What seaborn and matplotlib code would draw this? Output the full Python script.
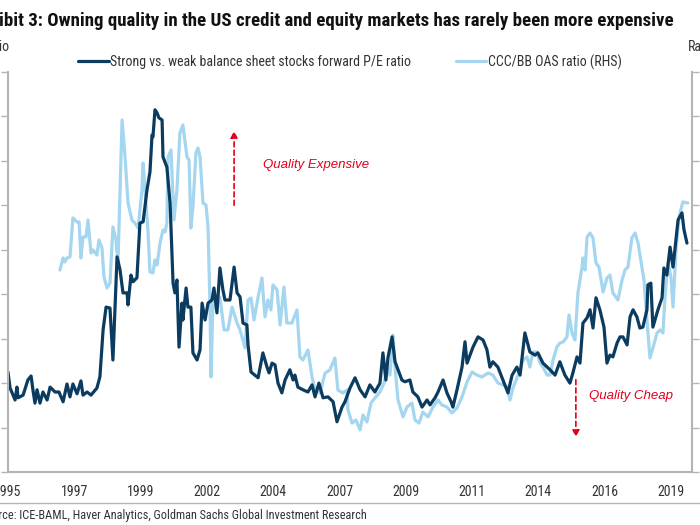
import matplotlib
matplotlib.use("Agg")
import matplotlib.pyplot as plt
from matplotlib import font_manager
from matplotlib.lines import Line2D
import seaborn as sns
import pandas as pd

# ---- data (x = months since Jan 1995) ----
pe_month = [0, 0.9, 3.1, 3.9, 4.4, 6.6, 8.7, 10.1, 10.9, 11.8,
            12.7, 14.0, 15.3, 17.1, 18.4, 20.6, 22.3, 24.1, 25.8, 27.1,
            28.4, 30.2, 31.9, 32.8, 34.6, 36.3, 38.9, 40.2, 41.6, 42.9,
            44.6, 45.9, 47.7, 49.0, 50.3, 52.1, 52.5, 53.8, 54.7, 56.4,
            57.7, 59.1, 60.8, 62.1, 63.0, 63.4, 64.3, 65.2, 66.0, 67.4,
            67.8, 69.5, 70.9, 72.2, 73.0, 73.9, 74.8, 76.1, 76.5, 77.9,
            78.7, 80.0, 80.9, 82.7, 84.0, 84.9, 86.2, 87.5, 89.2, 90.1,
            91.4, 92.7, 94.0, 94.9, 96.2, 97.1, 98.9, 100.2, 101.5, 102.8,
            104.5, 105.0, 106.3, 108.0, 109.4, 111.5, 113.3, 114.2, 115.5, 116.8,
            118.1, 119.8, 121.2, 123.3, 124.7, 125.5, 126.8, 129.0, 131.2, 133.0,
            134.3, 136.0, 137.8, 140.0, 142.2, 143.9, 146.1, 147.4, 149.6, 151.8,
            154.0, 156.2, 158.3, 160.5, 162.7, 164.0, 165.3, 166.2, 168.0, 169.3,
            170.6, 172.3, 173.6, 175.8, 177.1, 179.3, 181.1, 183.3, 184.6, 186.8,
            188.1, 190.3, 192.0, 193.8, 194.6, 196.4, 198.6, 199.9, 200.8, 203.4,
            205.6, 207.8, 209.5, 210.8, 212.1, 214.3, 216.5, 218.7, 220.5, 222.6,
            224.0, 226.1, 228.3, 230.5, 231.8, 234.0, 237.1, 239.3, 241.4, 243.6,
            245.8, 247.1, 248.9, 250.2, 251.5, 253.3, 254.6, 255.9, 257.2, 258.9,
            260.7, 262.0, 263.3, 264.6, 266.4, 267.7, 269.0, 270.8, 272.1, 273.4,
            275.1, 276.4, 277.7, 279.5, 279.9, 281.2, 282.1, 284.3, 286.1, 286.9,
            288.2, 289.6, 290.9, 293.1, 294.8, 295.7, 297.0]
pe_ratio = [0.725, 0.689, 0.662, 0.691, 0.667, 0.673, 0.707, 0.716, 0.685, 0.655,
            0.685, 0.655, 0.680, 0.662, 0.691, 0.680, 0.680, 0.658, 0.698, 0.669,
            0.698, 0.676, 0.705, 0.673, 0.680, 0.673, 0.689, 0.714, 0.820, 0.871,
            0.869, 0.752, 0.984, 0.955, 0.903, 0.903, 0.876, 0.943, 0.928, 0.937,
            1.060, 1.063, 1.135, 1.175, 1.258, 1.254, 1.315, 1.308, 1.297, 1.292,
            1.209, 1.186, 1.105, 0.925, 0.903, 0.932, 0.781, 0.880, 0.842, 0.914,
            0.871, 0.871, 0.768, 0.752, 0.775, 0.880, 0.842, 0.880, 0.887, 0.914,
            0.858, 0.959, 0.910, 0.887, 0.887, 0.887, 0.961, 0.903, 0.894, 0.835,
            0.831, 0.786, 0.725, 0.718, 0.712, 0.768, 0.736, 0.723, 0.745, 0.741,
            0.700, 0.678, 0.707, 0.730, 0.707, 0.718, 0.691, 0.685, 0.680, 0.696,
            0.669, 0.700, 0.667, 0.669, 0.658, 0.613, 0.646, 0.658, 0.689, 0.712,
            0.685, 0.669, 0.696, 0.680, 0.700, 0.768, 0.707, 0.757, 0.804, 0.748,
            0.730, 0.707, 0.703, 0.707, 0.680, 0.669, 0.646, 0.662, 0.651, 0.667,
            0.680, 0.707, 0.678, 0.658, 0.646, 0.685, 0.736, 0.793, 0.745, 0.781,
            0.804, 0.797, 0.775, 0.736, 0.748, 0.736, 0.707, 0.678, 0.718, 0.736,
            0.718, 0.813, 0.770, 0.763, 0.768, 0.745, 0.730, 0.718, 0.748, 0.718,
            0.700, 0.723, 0.759, 0.745, 0.835, 0.847, 0.865, 0.824, 0.892, 0.865,
            0.826, 0.745, 0.763, 0.759, 0.790, 0.804, 0.804, 0.786, 0.849, 0.865,
            0.849, 0.824, 0.826, 0.865, 0.921, 0.925, 0.826, 0.865, 0.892, 0.959,
            0.943, 1.006, 0.961, 1.067, 1.083, 1.045, 1.015]

oas_month = [22.7, 24.1, 24.9, 25.8, 27.1, 28.4, 30.2, 31.1, 31.9, 32.8,
             34.1, 35.0, 36.3, 37.2, 38.9, 39.8, 41.1, 42.0, 43.3, 44.6,
             45.9, 47.2, 48.1, 49.9, 51.2, 52.5, 54.2, 55.5, 56.9, 58.6,
             59.1, 59.9, 61.2, 62.1, 63.4, 64.3, 65.2, 66.5, 67.8, 68.7,
             69.5, 70.0, 71.3, 72.2, 72.6, 73.9, 75.2, 76.5, 78.3, 79.2,
             80.0, 80.9, 82.2, 83.1, 84.0, 85.3, 86.6, 87.5, 88.4, 88.8,
             89.7, 91.0, 92.7, 94.5, 96.2, 98.0, 100.2, 101.5, 103.7, 105.0,
             106.3, 107.6, 109.4, 111.1, 112.4, 113.7, 115.0, 115.9, 117.7, 119.0,
             120.7, 122.0, 124.2, 126.4, 127.7, 129.0, 131.2, 133.0, 134.3, 136.5,
             138.7, 140.8, 143.0, 144.3, 146.5, 148.3, 148.7, 150.5, 152.2, 154.0,
             155.3, 157.0, 158.8, 160.5, 162.7, 164.5, 165.8, 167.1, 168.4, 169.3,
             170.6, 172.8, 174.5, 176.7, 178.0, 179.8, 181.5, 183.7, 185.9, 188.1,
             189.8, 192.0, 194.2, 196.4, 198.6, 200.8, 203.0, 205.1, 207.3, 210.0,
             212.1, 214.3, 216.5, 218.3, 219.6, 220.9, 223.1, 225.3, 227.0, 228.3,
             229.6, 231.4, 232.7, 234.0, 235.8, 237.1, 238.4, 240.1, 241.4, 242.8,
             244.5, 245.4, 246.7, 248.0, 249.3, 251.1, 251.5, 252.4, 253.3, 254.6,
             255.9, 257.2, 258.5, 260.3, 262.0, 263.3, 264.6, 266.8, 268.6, 269.9,
             271.2, 272.9, 274.3, 275.6, 277.3, 278.2, 279.5, 280.8, 282.1, 283.9,
             285.2, 286.5, 287.4, 288.7, 290.0, 290.9, 292.2, 293.5, 295.2, 297.4]
oas_ratio = [3.273, 3.408, 3.363, 3.408, 3.419, 3.858, 3.813, 3.813, 3.408, 3.644,
             3.644, 3.835, 3.464, 3.498, 3.441, 3.610, 3.520, 3.194, 3.070, 3.126,
             3.756, 3.610, 3.351, 4.960, 4.544, 4.026, 3.835, 3.801, 3.745, 4.173,
             4.476, 4.173, 3.723, 3.250, 3.239, 3.385, 3.329, 3.576, 3.723, 3.700,
             3.801, 4.544, 4.623, 4.094, 3.835, 4.173, 4.814, 4.904, 4.544, 4.510,
             3.745, 3.981, 4.589, 4.645, 4.544, 4.026, 4.004, 3.756, 2.823, 2.069,
             2.969, 2.845, 2.969, 2.598, 2.598, 2.856, 2.676, 2.598, 2.395, 2.935,
             2.958, 2.710, 2.969, 3.183, 2.744, 2.935, 2.823, 3.104, 3.048, 2.654,
             3.081, 2.676, 2.676, 2.823, 2.294, 2.260, 2.373, 2.069, 1.923, 1.889,
             2.114, 2.148, 2.283, 1.923, 1.889, 1.923, 1.698, 1.551, 1.585, 1.473,
             1.641, 1.563, 1.776, 1.833, 1.900, 2.001, 2.170, 2.091, 2.541, 2.181,
             1.810, 1.619, 1.731, 1.776, 1.585, 1.551, 1.675, 1.619, 1.731, 1.810,
             1.754, 1.731, 1.664, 1.720, 1.844, 2.013, 2.125, 2.091, 2.069, 2.114,
             2.091, 2.001, 1.979, 1.956, 1.810, 1.945, 2.091, 2.260, 2.294, 2.181,
             2.350, 2.350, 2.226, 2.181, 2.091, 2.091, 2.260, 2.406, 2.451, 2.463,
             2.519, 2.766, 2.564, 2.485, 3.014, 3.306, 3.408, 3.273, 3.644, 3.689,
             3.633, 3.351, 3.306, 3.025, 3.183, 3.216, 3.014, 2.935, 3.160, 3.273,
             3.306, 3.633, 3.689, 3.576, 3.306, 3.160, 2.710, 2.283, 2.395, 2.564,
             2.598, 2.564, 2.969, 3.351, 3.194, 2.856, 3.498, 3.869, 4.038, 4.026]

tick_months = [0, 29, 58, 87, 116, 145, 174, 203, 232, 261, 290]
tick_labels = ["1995", "1997", "1999", "2002", "2004", "2007", "2009", "2011",
               "2014", "2016", "2019"]

pe_label = "Strong vs. weak balance sheet stocks forward P/E ratio"
oas_label = "CCC/BB OAS ratio (RHS)"

# ---- style ----
sns.set_style("white")
names = {f.name for f in font_manager.fontManager.ttflist}
narrow = next((n for n in ["Liberation Sans Narrow", "Roboto Condensed", "Arial Narrow",
                           "Liberation Sans"] if n in names), "DejaVu Sans")
plt.rcParams["font.family"] = [narrow, "DejaVu Sans"]

DARK = "#0b3c5f"
LIGHT = "#a4d6f0"
GREY = "#b4b4b4"
RED = "#e2001a"

fig = plt.figure(figsize=(7, 5.25), dpi=100)
ax = fig.add_axes([8 / 700, 1 - 472 / 525, 684 / 700, 400 / 525])
ax2 = ax.twinx()

df_pe = pd.DataFrame({"month": pe_month, "value": pe_ratio})
df_oas = pd.DataFrame({"month": oas_month, "value": oas_ratio})

sns.lineplot(data=df_oas, x="month", y="value", ax=ax2, color=LIGHT, lw=2.3,
             label=oas_label, legend=False)
sns.lineplot(data=df_pe, x="month", y="value", ax=ax, color=DARK, lw=2.3,
             label=pe_label, legend=False)
ax.set_zorder(ax2.get_zorder() + 1)
ax.patch.set_visible(False)

ax.set_xlim(0, 299.2)
ax.set_ylim(0.5, 1.4)
ax2.set_ylim(1.0, 5.5)
ax.set_yticks([0.5 + 0.1 * i for i in range(10)])
ax2.set_yticks([1.0 + 0.5 * i for i in range(10)])
ax.set_yticklabels([])
ax2.set_yticklabels([])
ax.set_xticks(tick_months)
ax.set_xticklabels(tick_labels, fontsize=10, color="#333333")
for a in (ax, ax2):
    a.set_xlabel("")
    a.set_ylabel("")
    a.spines["top"].set_visible(False)
    for s in ("left", "right", "bottom"):
        a.spines[s].set_color(GREY)
        a.spines[s].set_linewidth(1.5)
ax.spines["right"].set_visible(False)
ax2.spines["left"].set_visible(False)
ax2.spines["bottom"].set_visible(False)
ax.tick_params(axis="x", direction="out", length=5, width=1, color=GREY, pad=4)
ax.tick_params(axis="y", left=True, direction="out", length=5, width=1, color=GREY)
ax2.tick_params(axis="y", right=True, direction="out", length=5, width=1, color=GREY)

# annotations
ax.annotate("", xy=(98.9, 1.274), xytext=(98.9, 1.094),
            arrowprops=dict(arrowstyle="-|>", color=RED, lw=1.2, ls=(0, (3, 2)),
                            mutation_scale=10))
ax.text(111.5, 1.191, "Quality Expensive", color=RED, fontstyle="italic",
        fontsize=9.5, va="center", ha="left", family=["Liberation Sans", "DejaVu Sans"])
ax.annotate("", xy=(248.4, 0.572), xytext=(248.4, 0.714),
            arrowprops=dict(arrowstyle="-|>", color=RED, lw=1.2, ls=(0, (3, 2)),
                            mutation_scale=10))
ax.text(254.1, 0.671, "Quality Cheap", color=RED, fontstyle="italic",
        fontsize=9.5, va="center", ha="left", family=["Liberation Sans", "DejaVu Sans"])

# legend
h1, l1 = ax.get_legend_handles_labels()
h2, l2 = ax2.get_legend_handles_labels()
fig.legend(h1 + h2, l1 + l2, loc="center", bbox_to_anchor=(350 / 700, 1 - 62 / 525),
           ncol=2, frameon=False, fontsize=10, handlelength=2.2, handletextpad=0.1,
           columnspacing=3.2, labelcolor="#333333")

# texts
fig.text(674 / 700, 1 - 21 / 525,
         "Exhibit 3: Owning quality in the US credit and equity markets has rarely been more expensive",
         ha="right", va="center", fontsize=13.6, fontweight="bold", color="#111111")
fig.text(10 / 700, 1 - 47 / 525, "Ratio", ha="right", va="center", fontsize=10, color="#333333")
fig.text(688 / 700, 1 - 47 / 525, "Ratio", ha="left", va="center", fontsize=10, color="#333333")
fig.add_artist(Line2D([0, 1], [1 - 503 / 525, 1 - 503 / 525], transform=fig.transFigure,
                      color=GREY, lw=1))
fig.text(367 / 700, 1 - 516 / 525,
         "Source: ICE-BAML, Haver Analytics, Goldman Sachs Global Investment Research",
         ha="right", va="center", fontsize=8.8, color="#333333")

fig.savefig("out.png", dpi=100)
